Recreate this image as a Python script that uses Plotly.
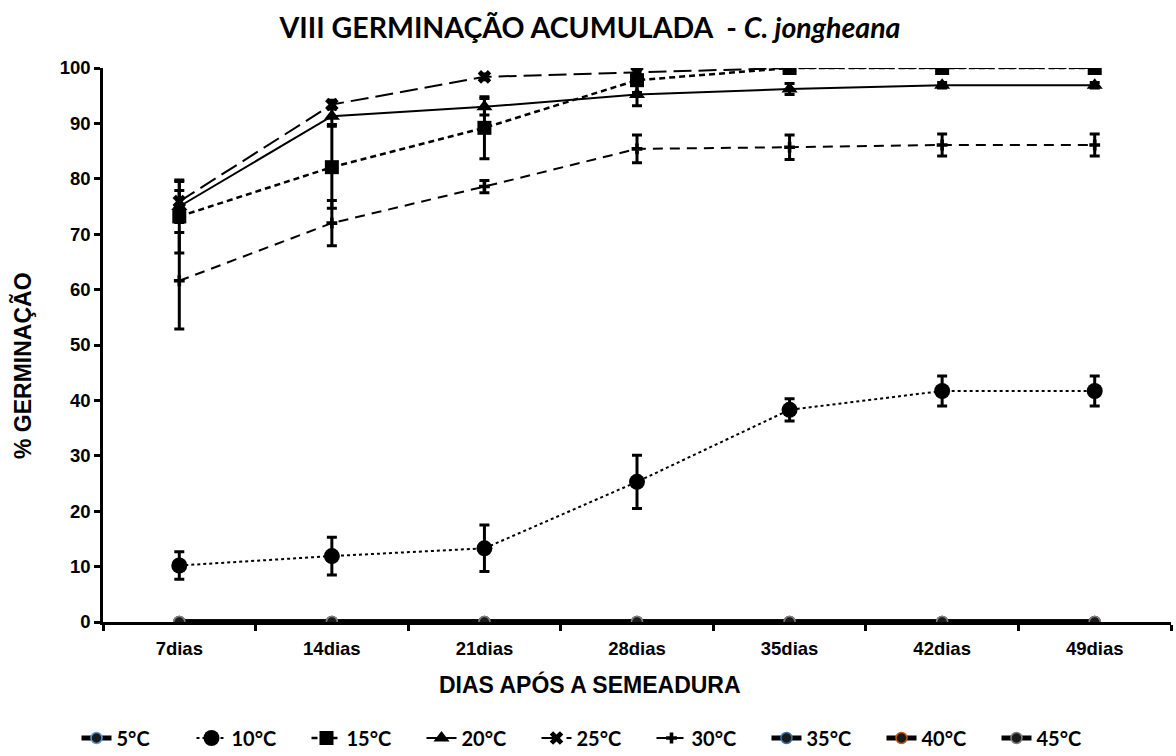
import plotly.graph_objects as go

# Days after sowing (x categories)
dias = ["7dias", "14dias", "21dias", "28dias", "35dias", "42dias", "49dias"]

# Cumulative germination (%) per temperature
g5 = [0, 0, 0, 0, 0, 0, 0]
g10 = [10.2, 11.9, 13.3, 25.3, 38.3, 41.7, 41.7]
g15 = [73.2, 82.1, 89.2, 97.8, 100, 100, 100]
g20 = [75.0, 91.3, 93.0, 95.2, 96.2, 96.9, 96.9]
g25 = [75.9, 93.4, 98.4, 99.2, 100, 100, 100]
g30 = [61.6, 72.0, 78.6, 85.4, 85.7, 86.1, 86.1]
g35 = [0, 0, 0, 0, 0, 0, 0]
g40 = [0, 0, 0, 0, 0, 0, 0]
g45 = [0, 0, 0, 0, 0, 0, 0]

# Standard error per point
e10 = [2.5, 3.4, 4.2, 4.8, 2.0, 2.7, 2.7]
e15 = [6.6, 7.4, 5.6, 2.2, 0, 0, 0]
e20 = [2.9, 1.5, 1.5, 2.0, 1.0, 0.5, 0.5]
e25 = [3.6, 0.8, 0.5, 0.5, 0, 0, 0]
e30 = [8.7, 4.1, 1.1, 2.5, 2.2, 2.0, 2.0]

BLACK = "#000000"
TICK_FONT = dict(family="Liberation Sans, Arial", size=18.5, color=BLACK, weight="bold")
AXT_FONT = dict(family="Liberation Sans, Arial", size=23, color=BLACK, weight="bold")
LEG_FONT = dict(family="Lato, Open Sans", size=20, color=BLACK, weight="bold")

W, H = 1176, 756

fig = go.Figure()


def err(vals):
    return dict(type="data", array=vals, visible=True, color=BLACK, thickness=3, width=5)


def zero_series(name, y, outline):
    fig.add_trace(go.Scatter(
        x=dias, y=y, name=name, mode="lines+markers",
        line=dict(color=BLACK, width=5),
        marker=dict(symbol="circle", size=11, color="#1a1a1a",
                    line=dict(color=outline, width=1.5)),
    ))


zero_series("5°C", g5, "#5b9bd5")

fig.add_trace(go.Scatter(
    x=dias, y=g10, name="10°C", mode="lines+markers",
    line=dict(color=BLACK, width=2, dash="dot"),
    marker=dict(symbol="circle", size=16, color=BLACK),
    error_y=err(e10),
))
fig.add_trace(go.Scatter(
    x=dias, y=g15, name="15°C", mode="lines+markers",
    line=dict(color=BLACK, width=2.5, dash="6px,4px"),
    marker=dict(symbol="square", size=14, color=BLACK),
    error_y=err(e15),
))
fig.add_trace(go.Scatter(
    x=dias, y=g20, name="20°C", mode="lines+markers",
    line=dict(color=BLACK, width=2),
    marker=dict(symbol="triangle-up", size=14, color=BLACK),
    error_y=err(e20),
))
fig.add_trace(go.Scatter(
    x=dias, y=g25, name="25°C", mode="lines+markers",
    line=dict(color=BLACK, width=2, dash="18px,7px"),
    marker=dict(symbol="x", size=12, color=BLACK),
    error_y=err(e25),
))
fig.add_trace(go.Scatter(
    x=dias, y=g30, name="30°C", mode="lines+markers",
    line=dict(color=BLACK, width=2, dash="10px,7px"),
    marker=dict(symbol="cross", size=9, color=BLACK),
    error_y=err(e30),
))

zero_series("35°C", g35, "#2e75b6")
zero_series("40°C", g40, "#c55a11")
zero_series("45°C", g45, "#7f7f7f")

fig.update_layout(
    width=W, height=H,
    paper_bgcolor="white", plot_bgcolor="white",
    margin=dict(l=103, r=5, t=68, b=134),
    title=dict(
        text="<b>VIII GERMINAÇÃO ACUMULADA \u00a0- <i>C. jongheana</i></b>",
        x=590 / W, xref="container", xanchor="center",
        y=1 - 28 / H, yref="container", yanchor="middle",
        font=dict(family="Lato, Open Sans", size=28.5, color=BLACK),
    ),
    showlegend=True,
    legend=dict(
        orientation="h",
        x=594 / W, xref="container", xanchor="center",
        y=1 - 738 / H, yref="container", yanchor="middle",
        font=LEG_FONT,
        entrywidth=70, entrywidthmode="pixels",
        bgcolor="rgba(0,0,0,0)",
    ),
    xaxis=dict(
        type="category", range=[-0.5, 6.5],
        showline=True, linecolor=BLACK, linewidth=2.5,
        ticks="outside", tickson="boundaries", ticklen=6, tickwidth=2.5, tickcolor=BLACK,
        showgrid=False, zeroline=False,
        tickfont=TICK_FONT, ticklabelstandoff=8,
    ),
    yaxis=dict(
        range=[0, 100], tickmode="array", tickvals=list(range(0, 101, 10)),
        showline=True, linecolor=BLACK, linewidth=2.5,
        ticks="outside", ticklen=6, tickwidth=2.5, tickcolor=BLACK,
        showgrid=False, zeroline=False,
        tickfont=TICK_FONT,
    ),
    annotations=[
        dict(text="DIAS APÓS A SEMEADURA", xref="paper", yref="paper",
             x=(590 - 103) / (W - 108), y=-(684 - 622) / 554,
             xanchor="center", yanchor="middle", showarrow=False, font=AXT_FONT),
        dict(text="% GERMINAÇÃO", xref="paper", yref="paper",
             x=-(103 - 22) / (W - 108), y=(622 - 366) / 554, textangle=-90,
             xanchor="center", yanchor="middle", showarrow=False, font=AXT_FONT),
    ],
)

fig.write_html("out.html")
